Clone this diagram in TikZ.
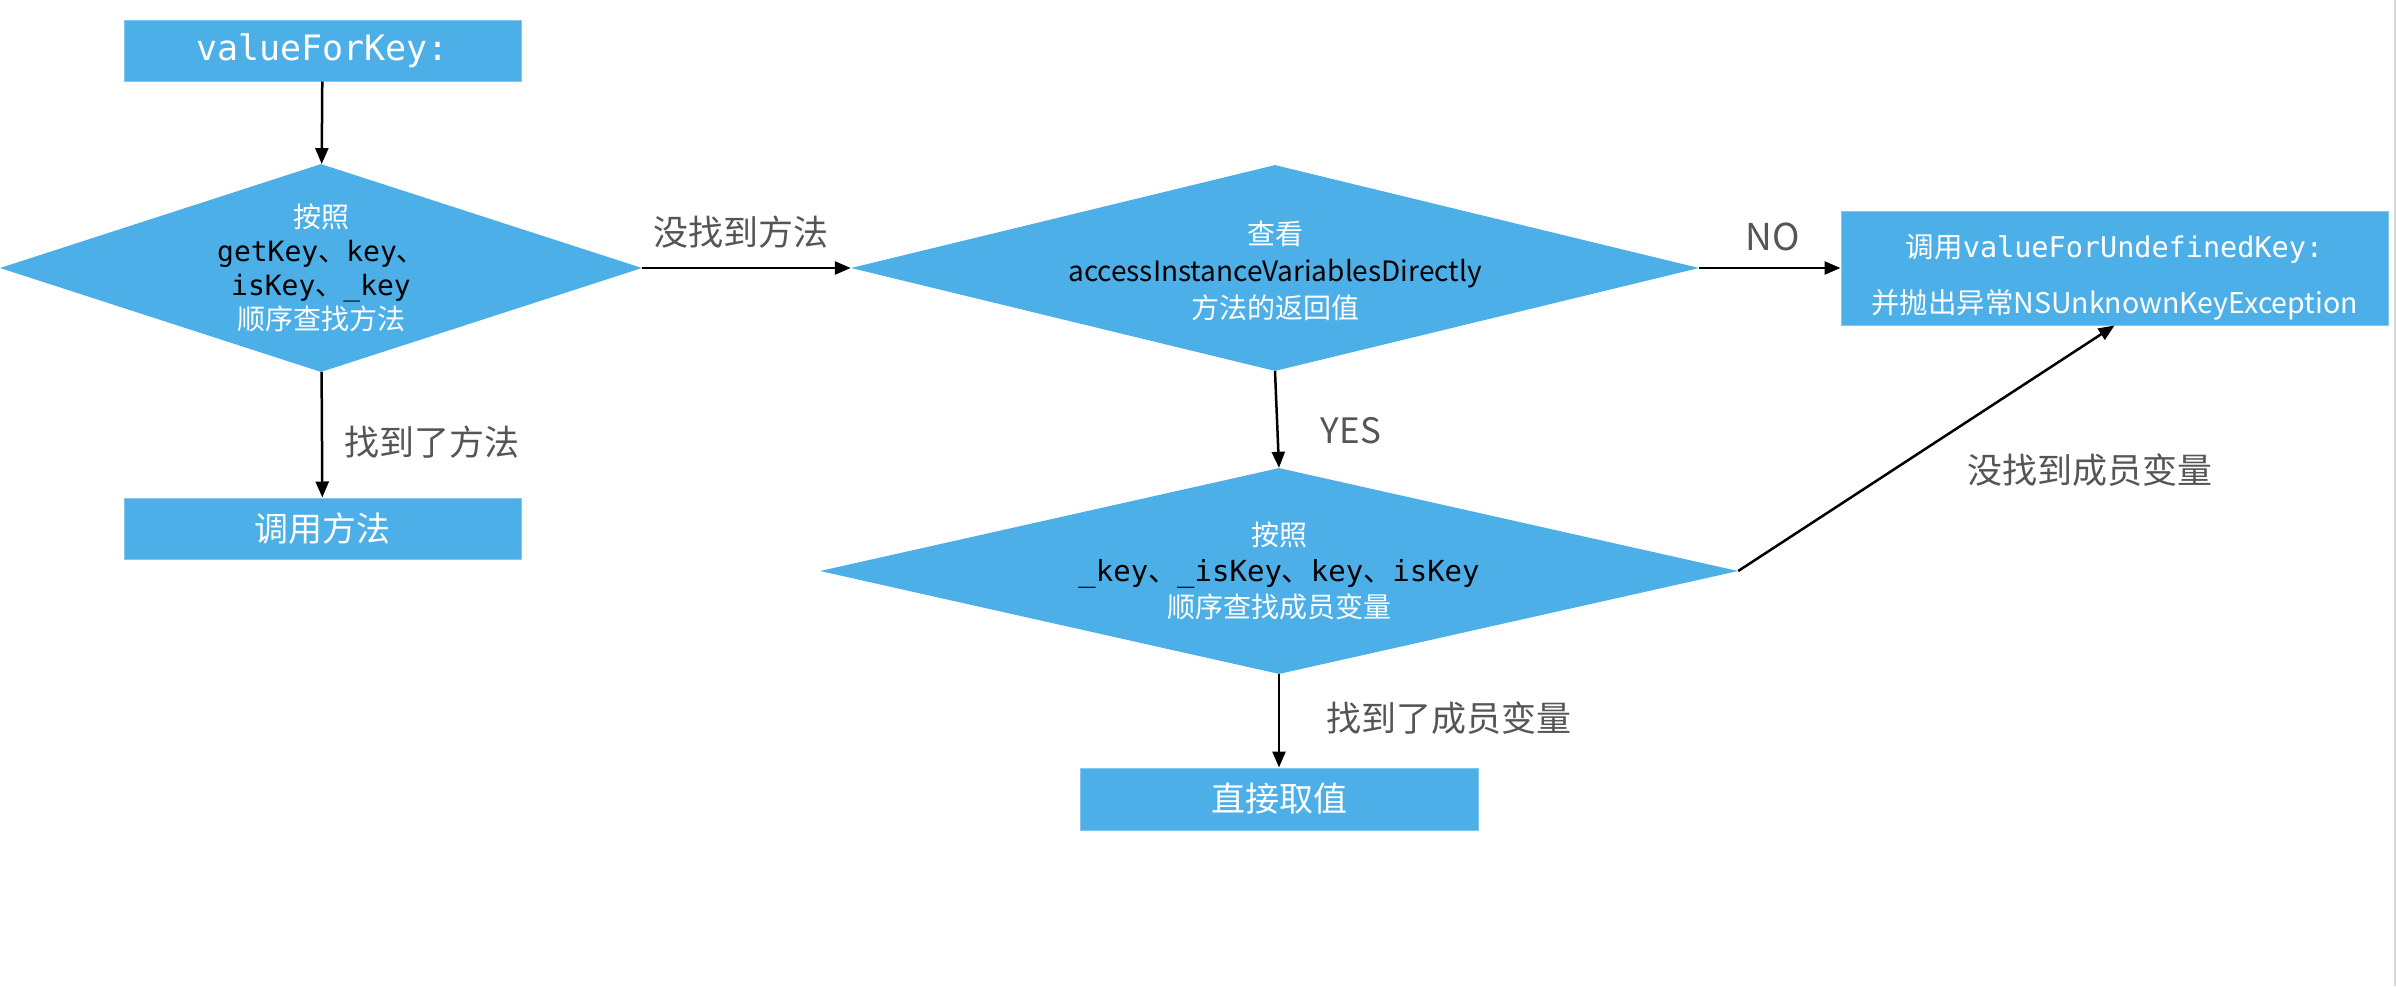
\documentclass[tikz,border=0pt]{standalone}
\usepackage{fontspec}
\setmainfont{Noto Sans CJK SC}
\newfontfamily\codefont{DejaVu Sans Mono}
\usetikzlibrary{shapes.geometric,arrows.meta}
\definecolor{boxblue}{HTML}{4DAFE8}
\definecolor{labelgray}{HTML}{555555}
\newcommand{\fsize}[1]{\fontsize{#1}{36}\selectfont}
\tikzset{
  blockbox/.style={fill=boxblue, draw=boxblue!70!white, line width=1pt, inner sep=0pt, text=white},
  decision/.style={diamond, fill=boxblue, inner sep=0pt},
  dtext/.style={align=center, text=white, font=\fsize{28}},
  flow/.style={line width=2.5pt, -{Triangle[length=16pt,width=13pt]}},
  lbl/.style={text=labelgray, font=\fsize{35}}
}
\begin{document}
\begin{tikzpicture}[x=1pt,y=-1pt]
\useasboundingbox (0,0) rectangle (2396,986);
\draw[black!15, line width=2pt] (2395,0) -- (2395,986);

% left column
\node[blockbox, minimum width=397pt, minimum height=61pt, font=\codefont\fsize{35}] (start) at (322.5,50.5) {valueForKey:};
\node[decision, minimum width=642pt, minimum height=208pt] (find) at (321,268) {};
\node[dtext] at (find) {按照\\[-2pt]
  {\color{black}{\codefont getKey}、{\codefont key}、}\\[-2pt]
  {\color{black}{\codefont isKey}、{\codefont \_key}}\\[-2pt]
  顺序查找方法};
\node[blockbox, minimum width=397pt, minimum height=61pt, font=\fsize{34}] (call) at (322.5,528.5) {调用方法};

% middle column
\node[decision, minimum width=848pt, minimum height=206pt] (access) at (1275,268) {};
\node[dtext] at ([yshift=-3pt]access.center) {查看\\[1pt]
  {\color{black}accessInstanceVariablesDirectly}\\[1pt]
  方法的返回值};
\node[decision, minimum width=918pt, minimum height=206pt] (ivar) at (1279,571) {};
\node[dtext] at (ivar) {按照\\
  {\color{black}\fsize{29}{\codefont \_key}、{\codefont \_isKey}、{\codefont key}、{\codefont isKey}}\\
  顺序查找成员变量};
\node[blockbox, minimum width=398pt, minimum height=62pt, font=\fsize{34}] (direct) at (1279,799) {直接取值};

% right box
\node[blockbox, minimum width=547pt, minimum height=114pt] (undef) at (2114.5,268) {};
\node[align=center, text=white, font=\fontsize{28.5}{56}\selectfont] at ([yshift=-9pt]undef.center)
  {调用{\codefont valueForUndefinedKey:}\\并抛出异常NSUnknownKeyException};

% arrows
\draw[flow] (start) -- (find);
\draw[flow] (find) -- (call);
\draw[flow] (find.east) -- (access.west);
\draw[flow] (access.east) -- (undef.west |- access.east);
\draw[flow] (access.south) -- (ivar.north);
\draw[flow] (ivar.east) -- (undef.south);
\draw[flow] (ivar.south) -- (direct.north);

% labels
\node[lbl] at (432,442) {找到了方法};
\node[lbl] at (741,232) {没找到方法};
\node[lbl, font=\fsize{37}] at (1773,237) {NO};
\node[lbl] at (1351,431) {YES};
\node[lbl] at (2090,470) {没找到成员变量};
\node[lbl] at (1449,718) {找到了成员变量};
\end{tikzpicture}
\end{document}
